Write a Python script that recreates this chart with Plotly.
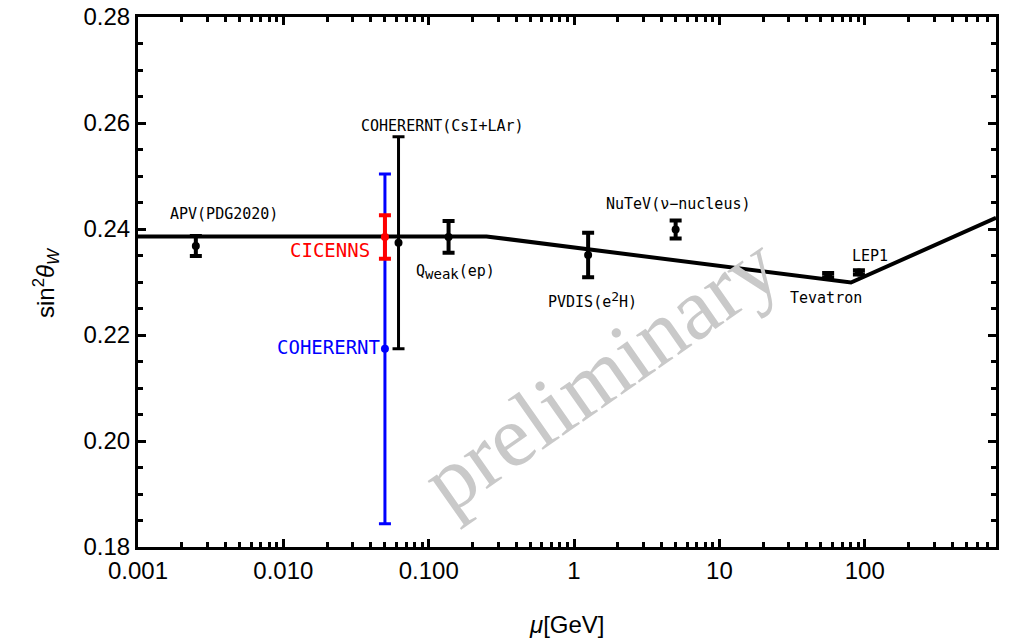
import plotly.graph_objects as go
import numpy as np

# Measurements of the weak mixing angle at various energy scales
labels = ["APV (PDG2020)", "COHERERNT", "CICENNS", "COHERERNT (CsI+LAr)",
          "Qweak (ep)", "PVDIS (e2H)", "NuTeV (v-nucleus)", "Tevatron", "LEP1"]
mu_gev = [0.0025, 0.05, 0.05, 0.062, 0.137, 1.25, 5.0, 56.0, 91.19]
sin2w = [0.2368, 0.2174, 0.2385, 0.2374, 0.2385, 0.2351, 0.2399, 0.2313, 0.2318]
err = [0.0019, 0.0330, 0.0041, 0.0200, 0.0030, 0.0042, 0.0017, 0.0004, 0.0004]
colors = ["black", "blue", "red", "black", "black", "black", "black", "black", "black"]
bar_thick = [4, 3, 4, 3, 4, 4, 4, 4, 4]

# Standard Model running of sin^2(theta_W)
run_mu = [0.001, 0.25, 80.4, 800.0]
run_s2w = [0.2386, 0.2386, 0.2299, 0.2421]

# Axis ticks
x_tickvals = [0.001, 0.01, 0.1, 1, 10, 100]
x_ticktext = ["0.001", "0.010", "0.100", "1", "10", "100"]
y_tickvals = [0.18, 0.20, 0.22, 0.24, 0.26, 0.28]
y_ticktext = ["0.18", "0.20", "0.22", "0.24", "0.26", "0.28"]

fig = go.Figure()

fig.add_trace(go.Scatter(
    x=run_mu, y=run_s2w, mode="lines",
    line=dict(color="black", width=4), showlegend=False, hoverinfo="skip"))

for i in range(len(labels)):
    fig.add_trace(go.Scatter(
        x=[mu_gev[i]], y=[sin2w[i]], mode="markers",
        marker=dict(color=colors[i], size=8),
        error_y=dict(type="data", array=[err[i]], visible=True,
                     color=colors[i], thickness=bar_thick[i], width=6),
        name=labels[i], showlegend=False))

mono = "DejaVu Sans Mono"
text_items = [
    # (text, x, y, size, color, xanchor)
    ("APV(PDG2020)", 0.0039, 0.2428, 15, "black", "center"),
    ("COHERERNT(CsI+LAr)", 0.125, 0.2594, 15, "black", "center"),
    ("CICENNS", 0.0405, 0.2360, 19, "red", "right"),
    ("COHERERNT", 0.0475, 0.2177, 19, "blue", "right"),
    ("Q<sub><span style='font-size:14px'>weak</span></sub>(ep)", 0.153, 0.2319, 15, "black", "center"),
    ("PVDIS(e<sup><span style='font-size:13px'>2</span></sup>H)", 1.35, 0.2266, 15, "black", "center"),
    ("NuTeV(\u03bd\u2212nucleus)", 5.2, 0.2447, 15, "black", "center"),
    ("Tevatron", 54.0, 0.2270, 15, "black", "center"),
    ("LEP1", 108.0, 0.2349, 15, "black", "center"),
]
annotations = []
for t, x, y, s, c, xa in text_items:
    annotations.append(dict(
        x=np.log10(x), y=y, xref="x", yref="y", text=t, showarrow=False,
        font=dict(family=mono, size=s, color=c), xanchor=xa, yanchor="middle"))

# Plot-area pixel geometry used to place paper-referenced text
L, R, T, B = 138, 996, 17, 547


def px_to_paper(px, py):
    return (px - L) / (R - L), 1 - (py - T) / (B - T)


wx, wy = px_to_paper(600, 373)
annotations.append(dict(
    x=wx, y=wy, xref="paper", yref="paper", text="preliminary", showarrow=False,
    textangle=-35, xanchor="center", yanchor="middle",
    font=dict(family="Liberation Serif", size=88, color="#c9c9c9")))

axis_font = dict(family="Liberation Sans, Arial", size=24, color="black")

tx, ty = px_to_paper(567, 624)
annotations.append(dict(
    x=tx, y=ty, xref="paper", yref="paper", text="<i>\u03bc</i>[GeV]",
    showarrow=False, xanchor="center", yanchor="middle", font=axis_font))
yx, yy = px_to_paper(46, 283)
annotations.append(dict(
    x=yx, y=yy, xref="paper", yref="paper",
    text="sin<sup>2</sup><i>\u03b8</i><sub><i>W</i></sub>",
    showarrow=False, xanchor="center", yanchor="middle", textangle=-90,
    font=axis_font))

x_minor = [m * 10.0 ** e for e in range(-3, 3) for m in range(2, 10)]
x_minor = [v for v in x_minor if v <= 800]

fig.update_layout(
    width=1010, height=643,
    margin=dict(l=L, r=1010 - R, t=T, b=643 - B),
    paper_bgcolor="white", plot_bgcolor="white",
    annotations=annotations,
    xaxis=dict(
        type="log", range=[-3, np.log10(800)], automargin=False,
        tickvals=x_tickvals, ticktext=x_ticktext,
        ticks="inside", ticklen=8, tickwidth=3, tickcolor="black",
        showline=True, linewidth=3, linecolor="black", mirror="ticks",
        showgrid=False, zeroline=False, tickfont=axis_font,
        minor=dict(tickvals=x_minor, ticks="inside", ticklen=5, tickwidth=3,
                   tickcolor="black", showgrid=False),
    ),
    yaxis=dict(
        range=[0.18, 0.28], automargin=False,
        tickvals=y_tickvals, ticktext=y_ticktext,
        ticks="inside", ticklen=8, tickwidth=3, tickcolor="black",
        showline=True, linewidth=3, linecolor="black", mirror="ticks",
        showgrid=False, zeroline=False, tickfont=axis_font,
        minor=dict(dtick=0.005, ticks="inside", ticklen=5, tickwidth=3,
                   tickcolor="black", showgrid=False),
    ),
)

fig.write_html("out.html")
